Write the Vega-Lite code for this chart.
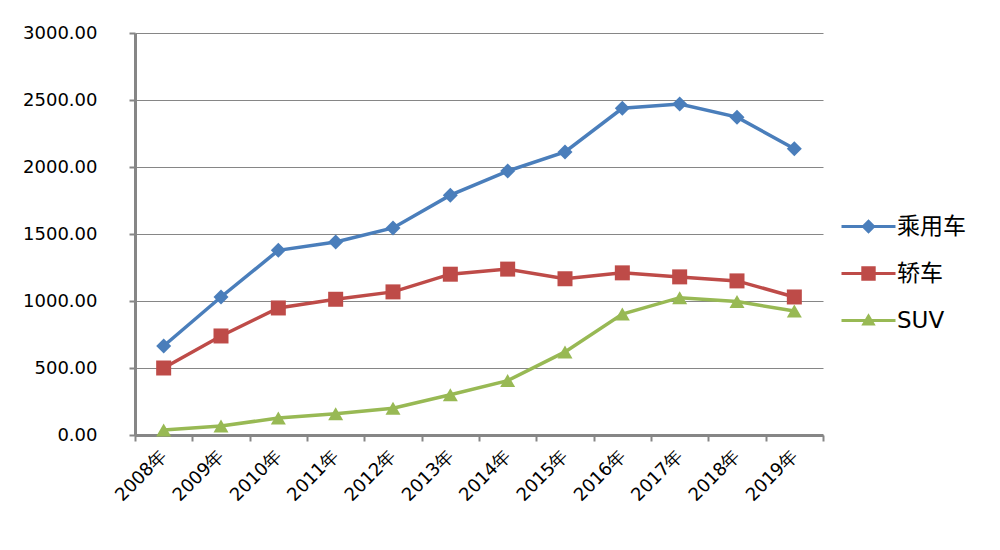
{
  "$schema": "https://vega.github.io/schema/vega-lite/v6.json",
  "width": 688,
  "height": 402,
  "autosize": {"type": "none"},
  "padding": {"left": 135, "top": 33, "right": 177, "bottom": 115},
  "background": "white",
  "config": {"view": {"stroke": null}, "font": "DejaVu Sans"},
  "data": {
    "values": [
      {"year": "2008年", "series": "乘用车", "value": 664},
      {"year": "2009年", "series": "乘用车", "value": 1030},
      {"year": "2010年", "series": "乘用车", "value": 1378},
      {"year": "2011年", "series": "乘用车", "value": 1440},
      {"year": "2012年", "series": "乘用车", "value": 1545},
      {"year": "2013年", "series": "乘用车", "value": 1790},
      {"year": "2014年", "series": "乘用车", "value": 1970},
      {"year": "2015年", "series": "乘用车", "value": 2112},
      {"year": "2016年", "series": "乘用车", "value": 2438},
      {"year": "2017年", "series": "乘用车", "value": 2470},
      {"year": "2018年", "series": "乘用车", "value": 2372},
      {"year": "2019年", "series": "乘用车", "value": 2136},
      {"year": "2008年", "series": "轿车", "value": 500},
      {"year": "2009年", "series": "轿车", "value": 739},
      {"year": "2010年", "series": "轿车", "value": 948},
      {"year": "2011年", "series": "轿车", "value": 1013},
      {"year": "2012年", "series": "轿车", "value": 1068},
      {"year": "2013年", "series": "轿车", "value": 1200},
      {"year": "2014年", "series": "轿车", "value": 1238},
      {"year": "2015年", "series": "轿车", "value": 1166},
      {"year": "2016年", "series": "轿车", "value": 1210},
      {"year": "2017年", "series": "轿车", "value": 1180},
      {"year": "2018年", "series": "轿车", "value": 1150},
      {"year": "2019年", "series": "轿车", "value": 1030},
      {"year": "2008年", "series": "SUV", "value": 38},
      {"year": "2009年", "series": "SUV", "value": 67},
      {"year": "2010年", "series": "SUV", "value": 127},
      {"year": "2011年", "series": "SUV", "value": 158},
      {"year": "2012年", "series": "SUV", "value": 200},
      {"year": "2013年", "series": "SUV", "value": 300},
      {"year": "2014年", "series": "SUV", "value": 406},
      {"year": "2015年", "series": "SUV", "value": 620},
      {"year": "2016年", "series": "SUV", "value": 903},
      {"year": "2017年", "series": "SUV", "value": 1025},
      {"year": "2018年", "series": "SUV", "value": 996},
      {"year": "2019年", "series": "SUV", "value": 925}
    ]
  },
  "encoding": {
    "x": {
      "field": "year",
      "type": "ordinal",
      "sort": null,
      "scale": {"type": "band", "paddingInner": 0, "paddingOuter": 0},
      "axis": {
        "title": null,
        "labelAngle": -45,
        "labelAlign": "right",
        "labelBaseline": "middle",
        "labelFontSize": 18,
        "labelColor": "#000000",
        "labelPadding": 12,
        "labelDx": -14,
        "tickBand": "extent",
        "tickSize": 6,
        "tickColor": "#868686",
        "tickWidth": 2,
        "domainColor": "#868686",
        "domainWidth": 3,
        "grid": false
      }
    },
    "y": {
      "field": "value",
      "type": "quantitative",
      "scale": {"domain": [0, 3000], "nice": false},
      "axis": {
        "title": null,
        "values": [0, 500, 1000, 1500, 2000, 2500, 3000],
        "format": ".2f",
        "labelFontSize": 18,
        "labelColor": "#000000",
        "labelPadding": 32,
        "tickSize": 6,
        "tickColor": "#868686",
        "tickWidth": 2,
        "domainColor": "#868686",
        "domainWidth": 3,
        "grid": true,
        "gridColor": "#868686",
        "gridWidth": 1
      }
    },
    "color": {
      "field": "series",
      "type": "nominal",
      "scale": {"domain": ["乘用车", "轿车", "SUV"], "range": ["#4a7ebb", "#be4b48", "#98b954"]},
      "legend": null
    }
  },
  "resolve": {"scale": {"shape": "independent"}, "legend": {"color": "independent", "shape": "independent"}},
  "layer": [
    {"mark": {"type": "line", "strokeWidth": 3.5}},
    {
      "mark": {"type": "point", "filled": true, "opacity": 1, "size": 225},
      "encoding": {
        "shape": {
          "field": "series",
          "type": "nominal",
          "scale": {"domain": ["乘用车", "轿车", "SUV"], "range": ["diamond", "square", "triangle-up"]},
          "legend": null
        }
      }
    },
    {
      "mark": {"type": "point", "filled": true, "opacity": 0, "size": 144},
      "encoding": {
        "color": {
          "field": "series",
          "type": "nominal",
          "scale": {"domain": ["乘用车", "轿车", "SUV"], "range": ["#4a7ebb", "#be4b48", "#98b954"]},
          "legend": {
            "title": null,
            "orient": "none",
            "legendX": 722,
            "legendY": 182,
            "symbolOpacity": 1,
            "symbolSize": 144,
            "symbolStrokeWidth": 0,
            "labelOffset": 17,
            "labelFontSize": 23,
            "labelFont": "DejaVu Sans, Noto Sans CJK SC",
            "labelColor": "#000000",
            "rowPadding": 23
          }
        },
        "shape": {
          "field": "series",
          "type": "nominal",
          "scale": {
            "domain": ["乘用车", "轿车", "SUV"],
            "range": [
              "M-4.5,-0.25H4.5V0.25H-4.5Z M0,-1.2L1.2,0L0,1.2L-1.2,0Z",
              "M-4.5,-0.25H4.5V0.25H-4.5Z M-1.2,-1.2H1.2V1.2H-1.2Z",
              "M-4.5,-0.25H4.5V0.25H-4.5Z M0,-1.2L1.2,0.85L-1.2,0.85Z"
            ]
          },
          "legend": {
            "title": null,
            "orient": "none",
            "legendX": 722,
            "legendY": 182,
            "symbolOpacity": 1,
            "symbolSize": 144,
            "symbolStrokeWidth": 0,
            "labelOffset": 17,
            "labelFontSize": 23,
            "labelFont": "DejaVu Sans, Noto Sans CJK SC",
            "labelColor": "#000000",
            "rowPadding": 23
          }
        }
      }
    }
  ]
}
